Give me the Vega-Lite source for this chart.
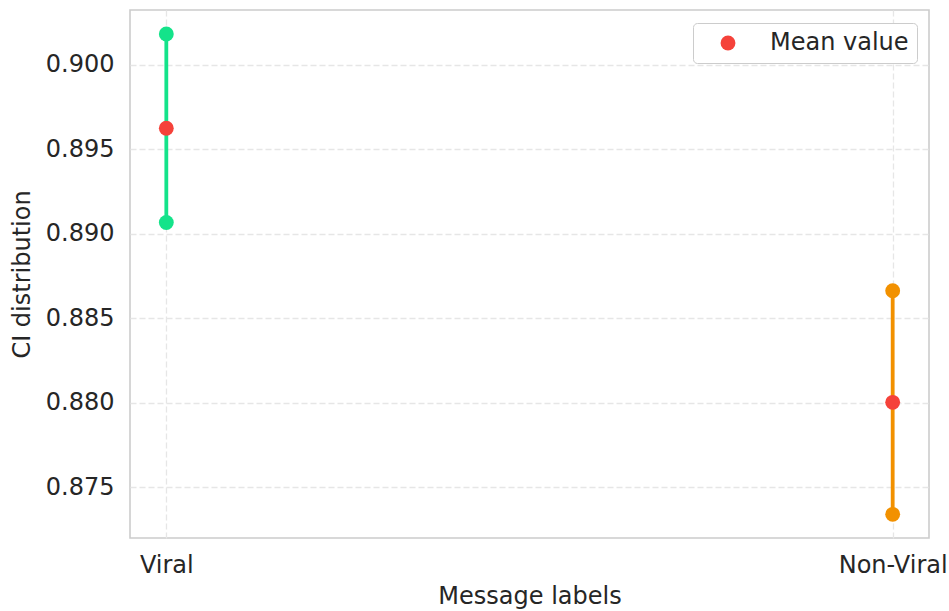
{
  "$schema": "https://vega.github.io/schema/vega-lite/v6.json",
  "width": 799,
  "height": 528,
  "autosize": {"type": "none"},
  "padding": {"left": 130, "top": 10, "right": 20, "bottom": 73},
  "background": "white",
  "data": {
    "values": [
      {"label": "Viral", "lower": 0.89067, "mean": 0.89625, "upper": 0.90183},
      {"label": "Non-Viral", "lower": 0.87339, "mean": 0.88002, "upper": 0.88663}
    ]
  },
  "encoding": {
    "x": {
      "field": "label",
      "type": "nominal",
      "sort": ["Viral", "Non-Viral"],
      "scale": {"type": "point", "padding": 0.05},
      "axis": {
        "title": "Message labels",
        "labelAngle": 0,
        "grid": true,
        "ticks": false,
        "tickSize": 0,
        "domain": false,
        "labelPadding": 15,
        "titlePadding": 7
      }
    }
  },
  "layer": [
    {
      "mark": {"type": "rule", "strokeWidth": 3.8},
      "encoding": {
        "y": {
          "field": "lower",
          "type": "quantitative",
          "scale": {"domain": [0.87199, 0.90325], "nice": false, "zero": false},
          "axis": {
            "title": "CI distribution",
            "values": [0.875, 0.88, 0.885, 0.89, 0.895, 0.9],
            "format": ".3f",
            "grid": true,
            "ticks": false,
            "tickSize": 0,
            "domain": false,
            "labelPadding": 16,
            "titlePadding": 11
          }
        },
        "y2": {"field": "upper"},
        "color": {
          "field": "label",
          "type": "nominal",
          "scale": {"domain": ["Viral", "Non-Viral"], "range": ["#14e38a", "#f29100"]},
          "legend": null
        }
      }
    },
    {
      "mark": {"type": "circle", "size": 220, "opacity": 1},
      "encoding": {
        "y": {"field": "lower", "type": "quantitative"},
        "color": {"field": "label", "type": "nominal", "legend": null}
      }
    },
    {
      "mark": {"type": "circle", "size": 220, "opacity": 1},
      "encoding": {
        "y": {"field": "upper", "type": "quantitative"},
        "color": {"field": "label", "type": "nominal", "legend": null}
      }
    },
    {
      "mark": {"type": "circle", "size": 220, "opacity": 1},
      "encoding": {
        "y": {"field": "mean", "type": "quantitative"},
        "fill": {
          "datum": "Mean value",
          "type": "nominal",
          "scale": {"domain": ["Mean value"], "range": ["#f5423a"]},
          "legend": {
            "title": null,
            "orient": "none",
            "legendX": 563,
            "legendY": 13,
            "padding": 8,
            "symbolOffset": 15,
            "labelOffset": 30,
            "symbolSize": 220,
            "symbolType": "circle",
            "symbolStrokeWidth": 0,
            "strokeColor": "#cccccc",
            "fillColor": "white",
            "cornerRadius": 4,
            "labelFontSize": 24,
            "labelFont": "DejaVu Sans",
            "labelColor": "#262626"
          }
        }
      }
    }
  ],
  "config": {
    "font": "DejaVu Sans",
    "view": {"stroke": "#cccccc", "strokeWidth": 1.6},
    "axis": {
      "labelFont": "DejaVu Sans",
      "titleFont": "DejaVu Sans",
      "labelFontSize": 24,
      "titleFontSize": 24,
      "titleFontWeight": "normal",
      "labelColor": "#262626",
      "titleColor": "#262626",
      "gridColor": "#e6e6e6",
      "gridWidth": 1.3,
      "gridDash": [6, 3]
    },
    "legend": {"labelLimit": 400}
  }
}
